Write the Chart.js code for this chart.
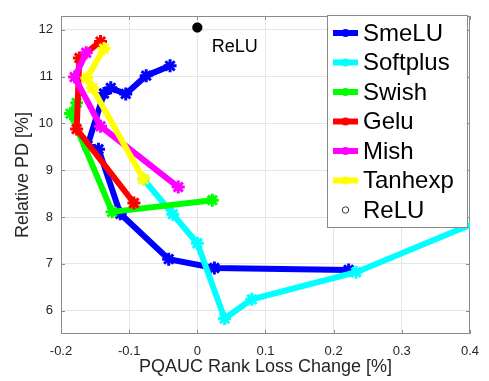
<!DOCTYPE html>
<html>
<head>
<meta charset="utf-8">
<script src="https://cdn.jsdelivr.net/npm/chart.js@4"></script>
<style>
  html, body { margin: 0; padding: 0; background: #fff; }
  #wrap { width: 489px; height: 381px; }
</style>
</head>
<body>
<div id="wrap"><canvas id="chart"></canvas></div>
<script>
// values
const seriesNames = ['SmeLU', 'Softplus', 'Swish', 'Gelu', 'Mish', 'Tanhexp']
const seriesColors = ['#0000ff', '#00ffff', '#00ff00', '#ff0000', '#ff00ff', '#ffff00']

const smeluX = [-0.040, -0.075, -0.105, -0.127, -0.137, -0.161, -0.145, -0.113, -0.042, 0.025, 0.222]
const smeluY = [11.23, 11.02, 10.63, 10.76, 10.64, 9.53, 9.45, 8.07, 7.10, 6.91, 6.87]

const softplusX = [-0.079, -0.036, 0.000, 0.040, 0.080, 0.233, 0.5]
const softplusY = [8.81, 8.06, 7.44, 5.83, 6.24, 6.82, 8.43]

const swishX = [-0.177, -0.186, -0.125, 0.022]
const swishY = [10.44, 10.21, 8.11, 8.36]

const geluX = [-0.142, -0.173, -0.177, -0.093]
const geluY = [11.75, 11.40, 9.88, 8.30]

const mishX = [-0.163, -0.180, -0.142, -0.028]
const mishY = [11.51, 10.99, 9.94, 8.64]

const tanhexpX = [-0.137, -0.162, -0.154, -0.079]
const tanhexpY = [11.60, 10.97, 10.76, 8.81]

const reluX = [0]
const reluY = [12.05]

const xTicks = [-0.2, -0.1, 0, 0.1, 0.2, 0.3, 0.4]
const yTicks = [6, 7, 8, 9, 10, 11, 12]
const xRange = [-0.2, 0.4]
const yRange = [5.5, 12.3]

const xTitle = 'PQAUC Rank Loss Change [%]'
const yTitle = 'Relative PD [%]'
const reluLabel = 'ReLU'
const reluLabelPos = [0.021, 11.52]

const FONT = '"Liberation Sans", Arial, Helvetica, sans-serif'
Chart.defaults.font.family = FONT

function toPoints(xs, ys) {
  return xs.map((v, i) => ({ x: v, y: ys[i] }))
}

const allX = [smeluX, softplusX, swishX, geluX, mishX, tanhexpX]
const allY = [smeluY, softplusY, swishY, geluY, mishY, tanhexpY]

const datasets = seriesNames.map((name, i) => ({
  label: name,
  data: toPoints(allX[i], allY[i]),
  showLine: true,
  borderColor: seriesColors[i],
  backgroundColor: seriesColors[i],
  borderWidth: 6,
  pointStyle: 'star',
  pointRadius: 6.5,
  pointBorderWidth: 3,
  pointBorderColor: seriesColors[i],
  order: 10 - i,   // later series on top, like matlab
  clip: 0
}))

datasets.push({
  label: 'ReLU',
  data: toPoints(reluX, reluY),
  showLine: false,
  borderColor: '#000',
  backgroundColor: '#000',
  pointStyle: 'star',
  pointRadius: 5,
  pointBorderWidth: 3.5,
  order: 0,
  clip: false
})

// box + inward ticks
const frame = {
  id: 'frame',
  beforeDatasetsDraw(chart) {
    const { ctx, chartArea: a, scales: { x, y } } = chart
    ctx.save()
    ctx.strokeStyle = '#8a8a8a'
    ctx.lineWidth = 1
    ctx.beginPath()
    ctx.rect(Math.round(a.left) + 0.5, Math.round(a.top) + 0.5, Math.round(a.right - a.left) - 1, Math.round(a.bottom - a.top) - 1)
    x.ticks.forEach(t => {
      const px = Math.round(x.getPixelForValue(t.value)) + 0.5
      ctx.moveTo(px, a.bottom); ctx.lineTo(px, a.bottom - 4)
      ctx.moveTo(px, a.top); ctx.lineTo(px, a.top + 4)
    })
    y.ticks.forEach(t => {
      const py = Math.round(y.getPixelForValue(t.value)) + 0.5
      ctx.moveTo(a.left, py); ctx.lineTo(a.left + 4, py)
      ctx.moveTo(a.right, py); ctx.lineTo(a.right - 4, py)
    })
    ctx.stroke()
    ctx.restore()
  },
  afterDatasetsDraw(chart) {
    const { ctx, scales: { x, y } } = chart
    ctx.save()
    ctx.fillStyle = '#000'
    ctx.font = '18px ' + FONT
    ctx.textAlign = 'left'
    ctx.textBaseline = 'alphabetic'
    ctx.fillText(reluLabel, x.getPixelForValue(reluLabelPos[0]), y.getPixelForValue(reluLabelPos[1]))
    ctx.restore()
  }
}

// legend box inside the plot, top right
const boxLegend = {
  id: 'boxLegend',
  afterDraw(chart) {
    const { ctx } = chart
    const left = 327, top = 15, right = 468, bottom = 228
    ctx.save()
    ctx.fillStyle = '#fff'
    ctx.fillRect(left, top, right - left, bottom - top)
    ctx.strokeStyle = '#8a8a8a'
    ctx.lineWidth = 1
    ctx.strokeRect(left + 0.5, top + 0.5, right - left - 1, bottom - top - 1)
    ctx.font = '24px ' + FONT
    ctx.textBaseline = 'middle'
    ctx.textAlign = 'left'
    chart.data.datasets.forEach((ds, i) => {
      const cy = 33 + i * 29.5
      if (ds.showLine) {
        ctx.strokeStyle = ds.borderColor
        ctx.lineWidth = 6
        ctx.beginPath()
        ctx.moveTo(333, cy); ctx.lineTo(358, cy)
        ctx.stroke()
        ctx.fillStyle = ds.borderColor
        ctx.beginPath()
        ctx.arc(345.5, cy, 4, 0, Math.PI * 2)
        ctx.fill()
      } else {
        ctx.strokeStyle = '#333'
        ctx.lineWidth = 1
        ctx.beginPath()
        ctx.arc(345.5, cy, 3.2, 0, Math.PI * 2)
        ctx.stroke()
      }
      ctx.fillStyle = '#000'
      ctx.fillText(ds.label, 363, cy + 1)
    })
    ctx.restore()
  }
}

new Chart(document.getElementById('chart'), {
  type: 'scatter',
  data: { datasets: datasets },
  options: {
    responsive: true,
    maintainAspectRatio: false,
    animation: false,
    layout: { padding: { top: 5, right: 10, left: 0, bottom: 0 } },
    plugins: {
      legend: { display: false },
      tooltip: { enabled: false }
    },
    scales: {
      x: {
        type: 'linear',
        min: xRange[0],
        max: xRange[1],
        afterBuildTicks: s => { s.ticks = xTicks.map(v => ({ value: v })) },
        afterFit: s => { s.height = 47 },
        border: { display: false },
        grid: { color: '#e6e6e6', drawTicks: false },
        ticks: {
          color: '#262626',
          font: { size: 13 },
          padding: 10,
          maxRotation: 0,
          callback: v => String(Math.round(v * 10) / 10)
        },
        title: {
          display: true,
          text: xTitle,
          color: '#262626',
          font: { size: 18 },
          padding: { top: 0, bottom: 3 }
        }
      },
      y: {
        type: 'linear',
        min: yRange[0],
        max: yRange[1],
        afterBuildTicks: s => { s.ticks = yTicks.map(v => ({ value: v })) },
        afterFit: s => { s.width = 61 },
        border: { display: false },
        grid: { color: '#e6e6e6', drawTicks: false },
        ticks: {
          color: '#262626',
          font: { size: 13 },
          padding: 8,
          callback: v => String(v)
        },
        title: {
          display: true,
          text: yTitle,
          color: '#262626',
          font: { size: 18 },
          padding: { top: 12, bottom: 0 }
        }
      }
    }
  },
  plugins: [frame, boxLegend]
})
</script>
</body>
</html>
